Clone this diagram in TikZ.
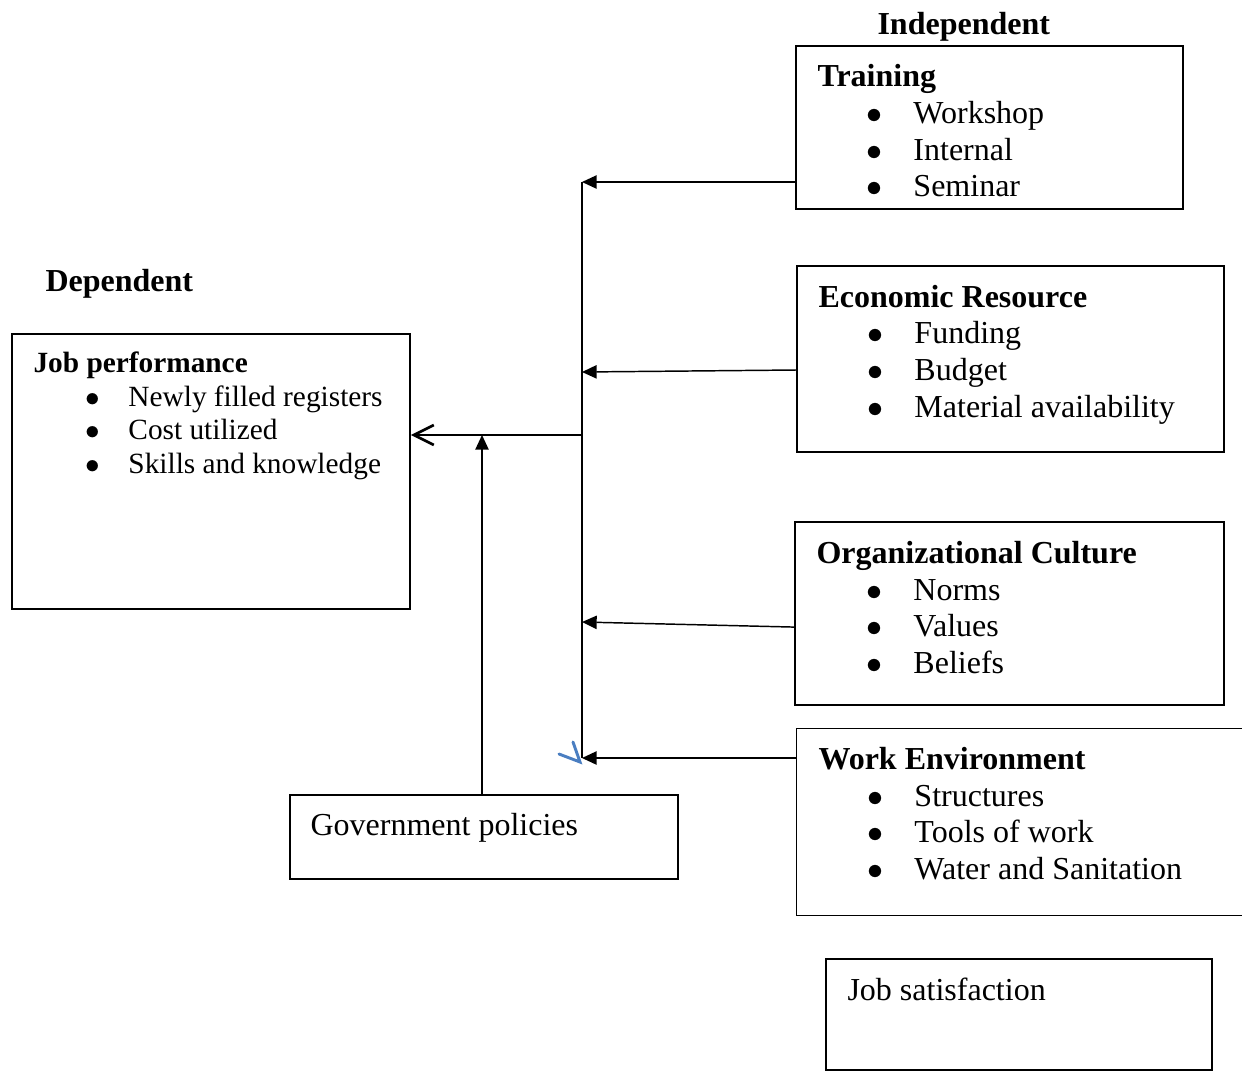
\documentclass[tikz,border=0pt]{standalone}
\usepackage{fontspec}
\setmainfont{Liberation Serif}
\usetikzlibrary{arrows.meta,fit}
\definecolor{markblue}{RGB}{74,126,193}
\newcommand{\bul}[1]{\makebox[#1][l]{$\bullet$}}
\tikzset{
  box/.style={draw,line width=0.65pt,inner sep=0pt},
  openbox/.style={inner sep=0pt},
  head/.style={anchor=base west,inner sep=0pt,font=\fontsize{12}{14}\selectfont\bfseries},
  item/.style={anchor=base west,inner sep=0pt,font=\fontsize{12}{14}\selectfont},
  smallhead/.style={anchor=base west,inner sep=0pt,font=\fontsize{11}{13}\selectfont\bfseries},
  smallitem/.style={anchor=base west,inner sep=0pt,font=\fontsize{11}{13}\selectfont},
  feed/.style={line width=0.55pt,-{Triangle[length=5.5pt,width=5pt]}},
  bus/.style={line width=0.55pt},
  result/.style={line width=0.55pt,-{Straight Barb[length=7.5pt,width=7.5pt,line width=1pt]}},
  stray/.style={markblue,line width=1.1pt,line cap=round}
}
\begin{document}
\begin{tikzpicture}[x=0.375pt,y=-0.375pt]
\useasboundingbox (0,0) rectangle (1242,1072);
\node[item] (indep) at (877,34) {\bfseries Independent};
\node[item] (dep) at (45,291) {\bfseries Dependent};

\node[box,fit={(796,46) (1183,209)}] (train) {};
\node[head] (trainT) at (817,86) {Training};
\node[item] (train1) at (866,123) {\bul{17.6pt}Workshop};
\node[item] (train2) at (866,160) {\bul{17.6pt}Internal};
\node[item] (train3) at (866,196) {\bul{17.6pt}Seminar};

\node[box,fit={(797,266) (1224,452)}] (econ) {};
\node[head] (econT) at (818,307) {Economic Resource};
\node[item] (econ1) at (867,343) {\bul{17.6pt}Funding};
\node[item] (econ2) at (867,380) {\bul{17.6pt}Budget};
\node[item] (econ3) at (867,417) {\bul{17.6pt}Material availability};

\node[box,fit={(795,522) (1224,705)}] (org) {};
\node[head] (orgT) at (816,563) {Organizational Culture};
\node[item] (org1) at (866,600) {\bul{17.6pt}Norms};
\node[item] (org2) at (866,636) {\bul{17.6pt}Values};
\node[item] (org3) at (866,673) {\bul{17.6pt}Beliefs};

\node[openbox,fit={(797,729) (1242,915)}] (work) {};
\draw[line width=0.65pt] (work.north east) -| (work.south west) -- (work.south east);
\node[head] (workT) at (818,769) {Work Environment};
\node[item] (work1) at (867,806) {\bul{17.6pt}Structures};
\node[item] (work2) at (867,842) {\bul{17.6pt}Tools of work};
\node[item] (work3) at (867,879) {\bul{17.6pt}Water and Sanitation};

\node[box,fit={(12,334) (410,609)}] (job) {};
\node[smallhead] (jobT) at (33,372) {Job performance};
\node[smallitem] (job1) at (85,406) {\bul{16.1pt}Newly filled registers};
\node[smallitem] (job2) at (85,439) {\bul{16.1pt}Cost utilized};
\node[smallitem] (job3) at (85,473) {\bul{16.1pt}Skills and knowledge};

\node[box,fit={(290,795) (678,879)}] (gov) {};
\node[item] (govT) at (310,835) {Government policies};

\node[box,fit={(826,959) (1212,1070)}] (sat) {};
\node[item] (satT) at (847,1000) {Job satisfaction};

\coordinate (b1) at (582,182);
\coordinate (b2) at (582,372);
\coordinate (b3) at (582,622);
\coordinate (b4) at (582,758);
\coordinate (hub) at (582,435);
\draw[bus] (b1) -- (b4);
\draw[feed] (train.west |- b1) -- (b1);
\draw[feed] ([yshift=0.75pt]econ.west |- b2) -- (b2);
\draw[feed] ([yshift=-1.9pt]org.west |- b3) -- (b3);
\draw[feed] (work.west |- b4) -- (b4);
\draw[result] (hub) -- (job.east |- hub);
\draw[feed] (gov.north -| 482,0) -- (482,0 |- hub);
\draw[stray] (559,754) -- (580,762) -- (573,742);
\end{tikzpicture}
\end{document}
